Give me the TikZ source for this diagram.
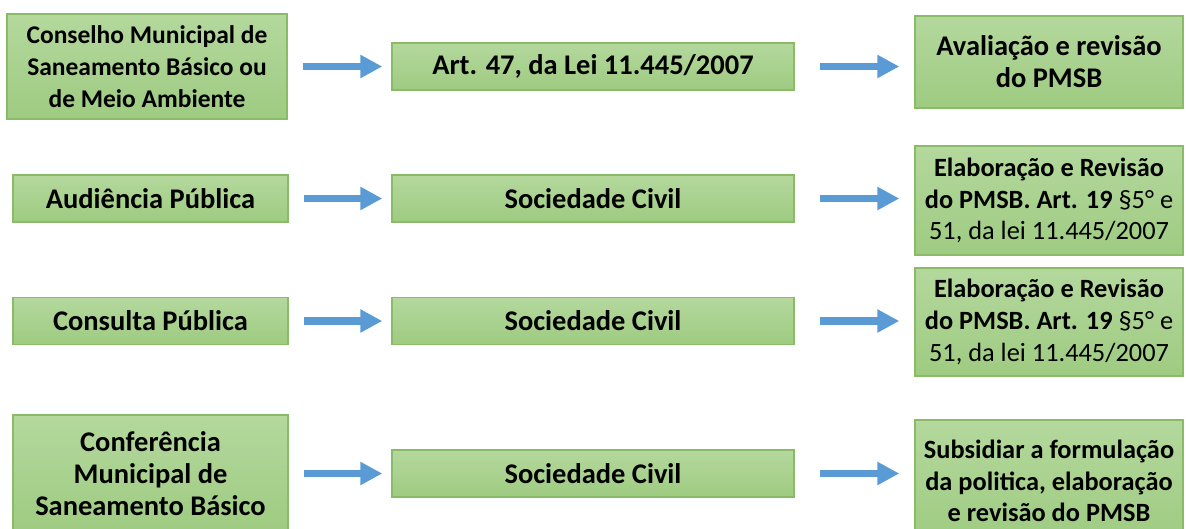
\documentclass[tikz,border=0pt]{standalone}
\usepackage{fontspec}
\setmainfont{Carlito}
\usepackage{tikz}
\usetikzlibrary{arrows.meta, positioning}
\definecolor{mygreentop}{RGB}{180, 216, 157}
\definecolor{mygreenbot}{RGB}{158, 203, 129}
\definecolor{myline}{RGB}{138, 188, 104}
\definecolor{myblue}{RGB}{91, 155, 213}

\begin{document}
\begin{tikzpicture}[
    caixa/.style={rectangle, draw=myline, line width=0.8pt, top color=mygreentop, bottom color=mygreenbot, align=center, inner sep=0pt},
    grande/.style={font=\bfseries\fontsize{16.2}{18.2}\selectfont},
    media/.style={font=\bfseries\fontsize{14.5}{18.2}\selectfont},
    menor/.style={font=\bfseries\fontsize{15}{18}\selectfont},
    seta/.style={-{Triangle[length=12.5pt, width=12.5pt]}, myblue, line width=4.3pt}]
    \useasboundingbox (0,0) rectangle (23.72,-10.56);

    % Conselho
    \node[caixa, media, minimum width=5.6cm, minimum height=2.1cm] (c1) at (2.94, -1.33) {Conselho Municipal de\\ Saneamento Básico ou\\ de Meio Ambiente};
    \node[caixa, grande, minimum width=8.04cm, minimum height=0.94cm] (m1) at (11.86, -1.33) {Art. 47, da Lei 11.445/2007};
    \node[caixa, grande, minimum width=5.36cm, minimum height=1.84cm] (r1) at (20.98, -1.24) {Avaliação e revisão\\ do PMSB};
    \draw[seta, shorten <=0.3cm, shorten >=0.18cm] (c1) -- (m1);
    \draw[seta, shorten <=0.5cm, shorten >=0.3cm] (m1.east) -- (m1.east -| r1.west);

    % Audiencia
    \node[caixa, grande, minimum width=5.5cm, minimum height=0.94cm] (c2) at (3.01, -3.97) {Audiência Pública};
    \node[caixa, grande, minimum width=8.04cm, minimum height=0.94cm] (m2) at (11.86, -3.97) {Sociedade Civil};
    \node[caixa, menor, minimum width=5.36cm, minimum height=2.18cm] (r2) at (20.98, -4.01) {Elaboração e Revisão\\ do PMSB. Art. 19 {\mdseries §5° e}\\ {\mdseries 51, da lei 11.445/2007}};
    \draw[seta, shorten <=0.3cm, shorten >=0.18cm] (c2) -- (m2);
    \draw[seta, shorten <=0.5cm, shorten >=0.3cm] (m2.east) -- (m2.east -| r2.west);

    % Consulta
    \node[caixa, grande, minimum width=5.5cm, minimum height=0.94cm] (c3) at (3.01, -6.42) {Consulta Pública};
    \node[caixa, grande, minimum width=8.04cm, minimum height=0.94cm] (m3) at (11.86, -6.42) {Sociedade Civil};
    \node[caixa, menor, minimum width=5.36cm, minimum height=2.16cm] (r3) at (20.98, -6.44) {Elaboração e Revisão\\ do PMSB. Art. 19 {\mdseries §5° e}\\ {\mdseries 51, da lei 11.445/2007}};
    \draw[seta, shorten <=0.3cm, shorten >=0.18cm] (c3) -- (m3);
    \draw[seta, shorten <=0.5cm, shorten >=0.3cm] (m3.east) -- (m3.east -| r3.west);

    % Conferencia
    \node[caixa, grande, minimum width=5.5cm, minimum height=2.34cm] (c4) at (3.01, -9.47) {Conferência\\ Municipal de\\ Saneamento Básico};
    \node[caixa, grande, minimum width=8.04cm, minimum height=0.94cm] (m4) at (11.86, -9.47) {Sociedade Civil};
    \node[caixa, menor, minimum width=5.36cm, minimum height=2.44cm] (r4) at (20.98, -9.62) {Subsidiar a formulação\\ da politica, elaboração\\ e revisão do PMSB};
    \draw[seta, shorten <=0.3cm, shorten >=0.18cm] (c4) -- (m4);
    \draw[seta, shorten <=0.5cm, shorten >=0.3cm] (m4.east) -- (m4.east -| r4.west);
\end{tikzpicture}
\end{document}
